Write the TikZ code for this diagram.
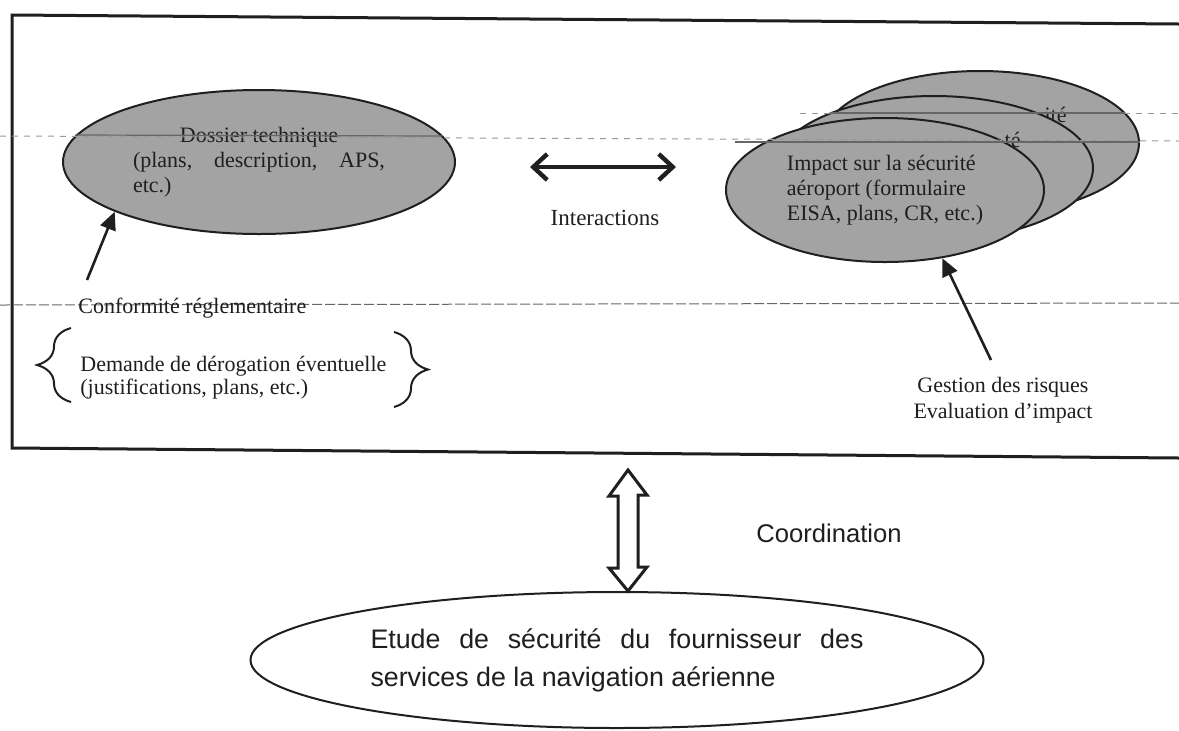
\documentclass[tikz,border=0pt]{standalone}
\usepackage{fontspec}
\setmainfont{Liberation Serif}
\newfontfamily\arialfont{Liberation Sans}
\usetikzlibrary{arrows.meta,shapes.geometric,decorations.pathreplacing,calc}
\definecolor{speck}{gray}{0.64}
\definecolor{ink}{gray}{0.12}
\begin{document}
\begin{tikzpicture}[x=0.5pt,y=-0.5pt,
  blob/.style={ellipse, draw=ink, line width=1pt, fill=speck, inner sep=0pt,
    minimum width=159pt, minimum height=72pt, text=ink,
    font=\fontsize{11}{12.5}\selectfont, align=left},
  plain/.style={ellipse, draw=ink, line width=1pt, fill=white, inner sep=0pt, text=ink},
  lbl/.style={font=\fontsize{11}{11.5}\selectfont, inner sep=0pt, text=ink},
  frameline/.style={draw=ink, line width=1.5pt},
  pointer/.style={draw=ink, line width=1.3pt, -{Triangle[length=9pt,width=8pt]}},
  both/.style={draw=ink, line width=2.2pt,
    {Straight Barb[length=7pt,width=13pt]}-{Straight Barb[length=7pt,width=13pt]}},
  bracestyle/.style={draw=ink, line width=1pt, decorate,
    decoration={brace, amplitude=17pt}},
  hollow/.style={draw=ink, line width=1.5pt, fill=white, line join=miter},
  scan/.style={draw=black!60, line width=0.6pt},
  scandot/.style={draw=black!40, line width=0.5pt, dash pattern=on 3pt off 3pt}]

\useasboundingbox (0,0) rectangle (1179,730);
\fill[white] (0,0) rectangle (1179,730);

% outer frame
\draw[frameline] (1179,24) -- (12,15) -- (12,448) -- (1179,458);

% left ellipse
\node[blob, minimum width=196pt, minimum height=72pt, text width=126pt, align=justify] (dossier) at (259,162)
  {\parindent=0pt{\centering Dossier technique\par}(plans, description, APS, etc.)};

% stacked right ellipses (back to front); only the ends of the hidden texts show
\node[blob] (back) at (980,143) {};
\node[lbl, anchor=base east, font=\fontsize{11}{12.5}\selectfont] (backfrag) at (1067,122) {ité};
\node[blob] (middle) at (934,168) {};
\node[lbl, anchor=base east, font=\fontsize{11}{12.5}\selectfont] (midfrag) at (1021,147) {té};
\node[blob] (front) at (885,190) {Impact sur la sécurité\\aéroport (formulaire\\EISA, plans, CR, etc.)};

% scan lines
\draw[scandot] (0,136) -- (1179,141);
\draw[scan] (75,135) -- (442,136);
\draw[scan] (735,142) -- (1140,142);
\draw[scandot] (800,113) -- (1179,113);
\draw[scan] (830,113) -- (1125,113);
\draw[scandot, draw=black!60, dash pattern=on 5pt off 1.5pt] (0,305) -- (1179,303);

% interactions
\coordinate (ia) at (530,167);
\coordinate (ib) at (676,167);
\draw[both] (ia) -- (ib);
\node[lbl, font=\fontsize{11.5}{12}\selectfont] (inter) at (605,218) {Interactions};

% conformite
\node[lbl, anchor=west] (conf) at (78,308) {Conformité réglementaire};
\coordinate (conftail) at (87,280);
\draw[pointer] (conftail) -- (dossier.199);

\node[lbl, align=left, anchor=west] (derog) at (80,378)
  {Demande de dérogation éventuelle\\(justifications, plans, etc.)};
\coordinate (lb1) at (71,402);
\coordinate (lb2) at (71,328);
\draw[bracestyle] (lb1) -- (lb2);
\coordinate (rb1) at (394,332);
\coordinate (rb2) at (394,407);
\draw[bracestyle] (rb1) -- (rb2);

% risk
\node[lbl, align=center, font=\fontsize{11}{13}\selectfont] (risk) at (1003,400)
  {Gestion des risques\\Evaluation d'impact};
\coordinate (risktail) at (991,360);
\draw[pointer] (risktail) -- (front.310);

% coordination
\node[plain, minimum width=366.5pt, minimum height=68pt, text width=246.5pt, align=justify,
  font=\arialfont\fontsize{13.4}{19}\selectfont] (ansp) at (617,660)
  {\hyphenpenalty=10000 Etude de sécurité du fournisseur des\break services de la navigation aérienne};
\coordinate (ctop) at (628,470);
\draw[hollow] (ctop) -- ++(19,25) -- ++(-9,0) -- ++(0,72) -- ++(9,0) -- (ansp.north -| ctop)
  -- ++(-19,-23) -- ++(9,0) -- ++(0,-72) -- ++(-9,0) -- cycle;
\node[anchor=west, inner sep=0pt, text=ink, font=\arialfont\fontsize{12.8}{15}\selectfont] (coord) at (756,533) {Coordination};
\end{tikzpicture}
\end{document}
